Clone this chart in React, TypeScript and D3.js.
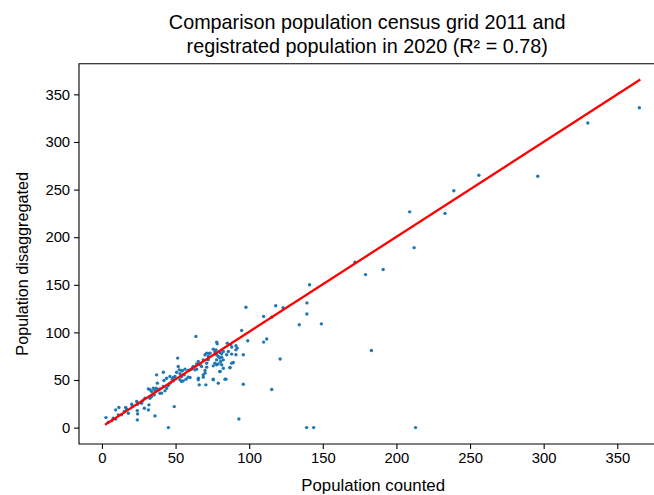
import * as d3 from "d3";
import { useEffect, useRef } from "react";

// [population counted, population disaggregated]
const lowPoints: [number, number][] = [
  [2.7, 10.5], [4.3, 5.6], [6.6, 7.1], [7.7, 9.9], [9.3, 9.1], [9.3, 18.6], [11.5, 21.1], [11.1, 13.4],
  [13.4, 13.4], [15.2, 16.9], [16.1, 21.1], [17.9, 15.1], [16.8, 19.3], [20.2, 24.6], [20.6, 22.1],
  [23.6, 27.4], [24.2, 24.6], [24, 17.9], [24.2, 14.4], [24, 8.1], [26.9, 25.6], [27.6, 28.1],
  [29.2, 30.9], [28.8, 20.4], [31.5, 18.6], [31.9, 23.9], [32.6, 30.9], [33.7, 32.6], [35.5, 34.4],
  [36, 12.3], [31.5, 40.7], [33.7, 37.9], [36, 39], [36.9, 41.4], [38.3, 39.7], [39.4, 40.7],
  [41.7, 43.2], [40.5, 36.2], [42.8, 38.6], [43.9, 41.4], [45.1, 44.2], [46.2, 46.7], [48.5, 49.1],
  [37.1, 55.4], [41.7, 58.2], [42.1, 49.5], [43.9, 51.9], [46.2, 53.7], [48.5, 52.6], [50.7, 58.2],
  [51.8, 64.2], [54.6, 59.6], [53, 50.2], [55.9, 55.4], [49.1, 22.1], [45.1, 0],
  [37.6, 46.7], [34.9, 41.4], [32.6, 39.7], [39.4, 36.1], [47.8, 50.9], [49.6, 53.7],
];

const midPoints: [number, number][] = [
  [52.5, 60.7], [53, 56.5], [54.1, 48.4], [55.2, 49.1], [57.1, 50.9], [58.6, 53], [59.8, 60.7],
  [61.6, 63.2], [63.2, 60.7], [64.3, 67], [65.4, 69.5], [66.6, 66], [67.7, 64.2], [68.8, 71.2],
  [70, 76.5], [71.1, 78.2], [72.2, 74.7], [73.4, 78.2], [75.6, 82.4], [76.7, 80], [77.9, 76.5],
  [79, 74.7], [80.1, 73], [81.3, 77.5], [82.4, 80], [84.7, 76.5], [85.8, 80], [88.1, 77.2],
  [91, 76.5], [76.7, 67.7], [77.9, 66], [79, 67], [80.6, 69.5], [81.3, 66], [80.1, 58.9],
  [82.4, 62.4], [86.9, 62.8], [88.1, 67.7], [84.2, 50.9], [79, 46.7], [75.6, 50.2], [70, 57.2],
  [68.8, 53], [65.4, 50.2], [66.1, 44.9], [70.6, 44.9], [77.9, 89.8], [78.3, 88], [85.1, 88.7],
  [87.4, 87.4], [91, 86], [91.9, 83.5], [99, 91.2], [96, 76.5], [96, 45.6], [51.4, 73], [63.8, 95.8],
  [97.8, 126.4], [94.9, 102.1], [77.5, 81.7], [76.8, 77.5], [80.2, 78.9], [81.3, 74], [88.1, 84.6],
  [91, 81.7], [89.2, 68.4], [87, 63.2], [82.4, 71.2], [77.9, 71.2], [75.6, 64.9], [80.2, 59],
  [72.2, 71.2], [71.1, 67.7], [71.1, 63.5], [70, 60], [64.3, 61.4], [68.8, 55.4], [65.5, 51.9],
  [62.1, 64.2], [60.9, 61.4], [58.7, 60], [56.4, 61.4], [54.1, 60], [54.1, 53.7], [59.8, 52.6],
  [75.6, 50.9], [83.6, 50.9], [72.7, 78], [93, 9],
];

const highPoints: [number, number][] = [
  [109.8, 116.8], [111.9, 93], [109.8, 89.8], [115.3, 116], [118, 128], [123, 126], [121, 72],
  [115.3, 40], [134, 108], [139.2, 131], [141, 150], [139.2, 119.3], [149, 109], [139, 0],
  [143.8, 0], [171.8, 173.6], [179, 160.7], [191, 166], [183, 81], [209, 226.6], [212, 189],
  [213, 0], [233, 225], [239, 248.7], [256, 265], [296, 264], [330, 320], [365, 336],
];

// fitted line y = intercept + slope * x, drawn over the counted range
const fitIntercept = 0.9;
const fitSlope = 0.9975;
const fitRange = [2.7, 365];

const xTicks = [0, 50, 100, 150, 200, 250, 300, 350];
const yTicks = [0, 50, 100, 150, 200, 250, 300, 350];

const titleLines = ["Comparison population census grid 2011 and", "registrated population in 2020 (R² = 0.78)"];
const xLabel = "Population counted";
const yLabel = "Population disaggregated";

const App = () => {
  const ref = useRef<SVGSVGElement>(null);

  useEffect(() => {
    const svg = d3.select(ref.current);
    svg.selectAll("*").remove();

    const margin = { top: 63.7, left: 79, bottom: 444 };
    const x = d3.scaleLinear().domain([-15.6, 384]).range([margin.left, margin.left + 399.6 * 1.4723]);
    const y = d3.scaleLinear().domain([-17.2, 382.2]).range([margin.bottom, margin.top]);
    const font = "'Liberation Sans', Arial, sans-serif";
    const cx = (x.range()[0] + x.range()[1]) / 2;

    const data = [...lowPoints, ...midPoints, ...highPoints];

    svg.append("g")
      .selectAll("circle")
      .data(data)
      .enter()
      .append("circle")
      .attr("cx", (d) => x(d[0]))
      .attr("cy", (d) => y(d[1]))
      .attr("r", 1.7)
      .style("fill", "#1f77b4");

    const line = d3.line<number>()
      .x((d) => x(d))
      .y((d) => y(fitIntercept + fitSlope * d));
    svg.append("path")
      .attr("d", line(fitRange))
      .attr("fill", "none")
      .attr("stroke", "#ff0000")
      .attr("stroke-width", 2.3)
      .attr("stroke-linecap", "square");

    // spines
    svg.append("path")
      .attr("d", `M${x.range()[1]},${margin.top}H${margin.left}V${margin.bottom}H${x.range()[1]}`)
      .attr("fill", "none")
      .attr("stroke", "#000")
      .attr("stroke-width", 1.1);

    const xAxis = svg.append("g").attr("transform", `translate(0,${margin.bottom})`)
      .call(d3.axisBottom(x).tickValues(xTicks).tickSize(4.9).tickPadding(4).tickFormat(d3.format("d")));
    const yAxis = svg.append("g").attr("transform", `translate(${margin.left},0)`)
      .call(d3.axisLeft(y).tickValues(yTicks).tickSize(4.9).tickPadding(4).tickFormat(d3.format("d")));
    [xAxis, yAxis].forEach((g) => {
      g.select(".domain").remove();
      g.selectAll("line").attr("stroke", "#000").attr("stroke-width", 1.1);
      g.selectAll("text").attr("fill", "#000").style("font-family", font).style("font-size", "14.8px");
    });

    svg.append("text")
      .attr("x", cx)
      .attr("y", 491)
      .attr("text-anchor", "middle")
      .style("font-family", font)
      .style("font-size", "16.8px")
      .text(xLabel);

    svg.append("text")
      .attr("transform", `translate(28,${(margin.top + margin.bottom) / 2 + 10}) rotate(-90)`)
      .attr("text-anchor", "middle")
      .style("font-family", font)
      .style("font-size", "16.2px")
      .text(yLabel);

    titleLines.forEach((t, i) => {
      svg.append("text")
        .attr("x", cx - 6)
        .attr("y", 29 + i * 24)
        .attr("text-anchor", "middle")
        .style("font-family", font)
        .style("font-size", "19.8px")
        .text(t);
    });
  }, []);

  return (
    <svg ref={ref} width={654} height={495}
      style={{ position: "absolute", left: 0, top: 0, background: "#fff" }} />
  );
};

export default App;
